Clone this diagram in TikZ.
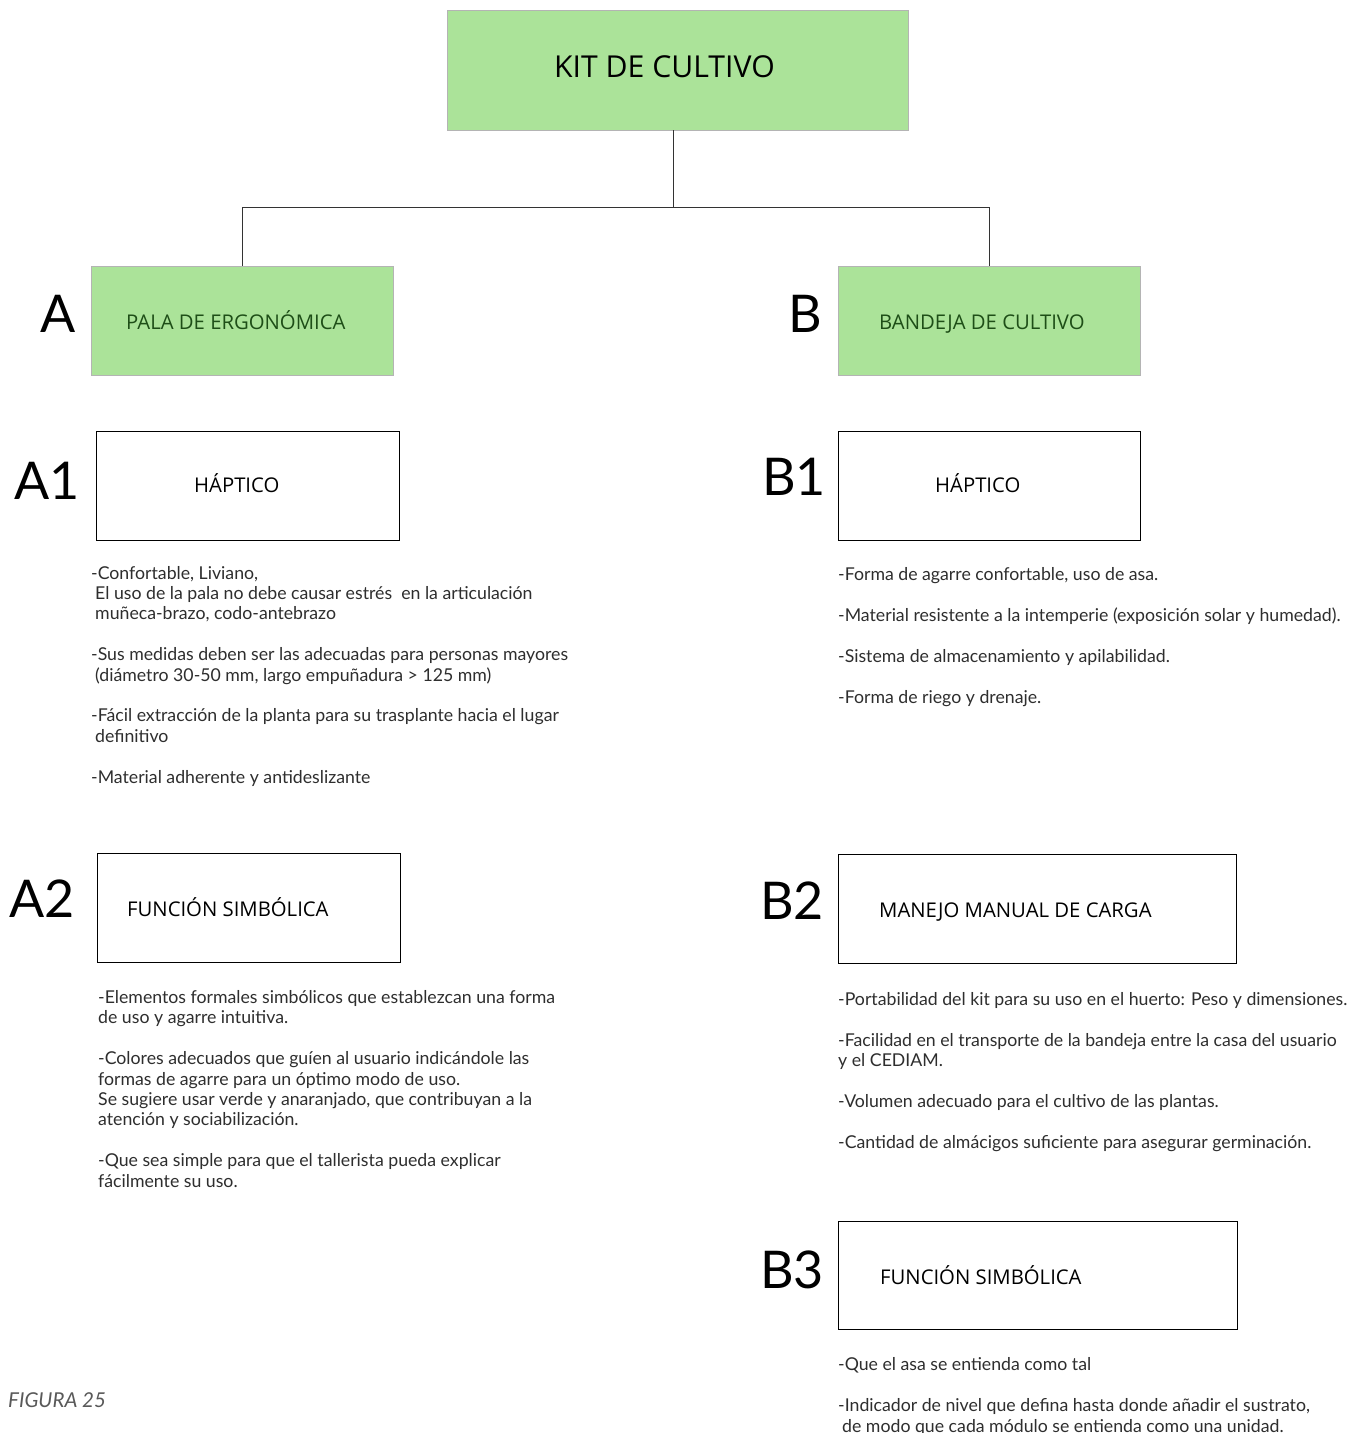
\documentclass[tikz,border=0pt]{standalone}
\usepackage{fontspec}
\setmainfont{Lato}
\newfontfamily\headfont{Open Sans}
\definecolor{kitgreen}{HTML}{ABE399}
\definecolor{kitedge}{HTML}{B4B4B4}
\definecolor{darkleaf}{HTML}{1E4E17}
\definecolor{bodygray}{HTML}{2E2E2E}
\newcommand{\indentline}{\hspace*{4pt}}
\begin{document}
\begin{tikzpicture}[x=1pt,y=-1pt,
  greenbox/.style={draw=kitedge, fill=kitgreen, line width=0.9pt, inner sep=0pt},
  whitebox/.style={draw=black, line width=0.8pt, inner sep=0pt},
  boxtitle/.style={font=\headfont\fontsize{20.3}{24}\selectfont, inner sep=0pt, anchor=base west},
  bigletter/.style={font=\fontsize{52}{60}\selectfont, inner sep=0pt, anchor=base west},
  % multi-line notes are placed by the baseline of their last line
  bodytext/.style={font=\fontsize{17.7}{20.4}\selectfont, text=bodygray, align=left, anchor=base west, inner sep=0pt},
  link/.style={draw=black!80, line width=0.7pt}]

\useasboundingbox (0,0) rectangle (1354,1433);
\fill[white] (0,0) rectangle (1354,1433);

% top node
\node[greenbox, minimum width=461pt, minimum height=120pt] (kit) at (677.5,70) {};
\node[font=\headfont\fontsize{30.2}{36}\selectfont, inner sep=0pt, anchor=base] (kitlabel) at (664.5,77) {KIT DE CULTIVO};

% branch A and B
\node[greenbox, minimum width=302pt, minimum height=109pt] (pala) at (242,320.5) {};
\node[boxtitle, text=darkleaf] (palalabel) at (126,329) {PALA DE ERGONÓMICA};
\node[bigletter] (letA) at (40,332) {A};

\node[greenbox, minimum width=302pt, minimum height=109pt] (bandeja) at (989,320.5) {};
\node[boxtitle, text=darkleaf] (bandejalabel) at (879,329) {BANDEJA DE CULTIVO};
\node[bigletter] (letB) at (788,332) {B};

% tree connectors
\coordinate (split) at (673,207);
\draw[link] (split |- kit.south) -- (split);
\draw[link] (split) -| (pala.north);
\draw[link] (split) -| (bandeja.north);

% A1
\node[whitebox, minimum width=303pt, minimum height=109pt] (a1) at (247.5,485.5) {};
\node[boxtitle] (a1label) at (194,492) {HÁPTICO};
\node[bigletter] (letA1) at (14,499) {A1};
\node[bodytext] (a1text) at (91,783) {-Confortable, Liviano,\\
\indentline El uso de la pala no debe causar estrés\ \ en la articulación\\
\indentline muñeca-brazo, codo-antebrazo\\[20.4pt]
-Sus medidas deben ser las adecuadas para personas mayores\\
\indentline(diámetro 30-50 mm, largo empuñadura > 125 mm)\\[20.4pt]
-Fácil extracción de la planta para su trasplante hacia el lugar\\
\indentline definitivo\\[20.4pt]
-Material adherente y antideslizante};

% B1
\node[whitebox, minimum width=302pt, minimum height=109pt] (b1) at (989,485.5) {};
\node[boxtitle] (b1label) at (935,492) {HÁPTICO};
\node[bigletter] (letB1) at (762,495) {B1};
\node[bodytext] (b1text) at (838,703) {-Forma de agarre confortable, uso de asa.\\[20.4pt]
-Material resistente a la intemperie (exposición solar y humedad).\\[20.4pt]
-Sistema de almacenamiento y apilabilidad.\\[20.4pt]
-Forma de riego y drenaje.};

% A2
\node[whitebox, minimum width=303pt, minimum height=109pt] (a2) at (248.5,907.5) {};
\node[boxtitle] (a2label) at (127,916) {FUNCIÓN SIMBÓLICA};
\node[bigletter] (letA2) at (9,917) {A2};
\node[bodytext] (a2text) at (98,1187) {-Elementos formales simbólicos que establezcan una forma\\
de uso y agarre intuitiva.\\[20.4pt]
-Colores adecuados que guíen al usuario indicándole las\\
formas de agarre para un óptimo modo de uso.\\
Se sugiere usar verde y anaranjado, que contribuyan a la\\
atención y sociabilización.\\[20.4pt]
-Que sea simple para que el tallerista pueda explicar\\
fácilmente su uso.};

% B2
\node[whitebox, minimum width=398pt, minimum height=109pt] (b2) at (1037,908.5) {};
\node[boxtitle] (b2label) at (879,917) {MANEJO MANUAL DE CARGA};
\node[bigletter] (letB2) at (760,919) {B2};
\node[bodytext] (b2text) at (838,1148) {-Portabilidad del kit para su uso en el huerto: Peso y dimensiones.\\[20.4pt]
-Facilidad en el transporte de la bandeja entre la casa del usuario\\
y el CEDIAM.\\[20.4pt]
-Volumen adecuado para el cultivo de las plantas.\\[20.4pt]
-Cantidad de almácigos suficiente para asegurar germinación.};

% B3
\node[whitebox, minimum width=399pt, minimum height=108pt] (b3) at (1037.5,1275) {};
\node[boxtitle] (b3label) at (880,1284) {FUNCIÓN SIMBÓLICA};
\node[bigletter] (letB3) at (760,1288) {B3};
\node[bodytext] (b3text) at (838,1432) {-Que el asa se entienda como tal\\[20.4pt]
-Indicador de nivel que defina hasta donde añadir el sustrato,\\
\indentline de modo que cada módulo se entienda como una unidad.};

% caption
\node[font=\itshape\fontsize{20.5}{24}\selectfont, text=black!65, anchor=base west, inner sep=0pt] (fig) at (8,1407) {FIGURA 25};
\end{tikzpicture}
\end{document}
